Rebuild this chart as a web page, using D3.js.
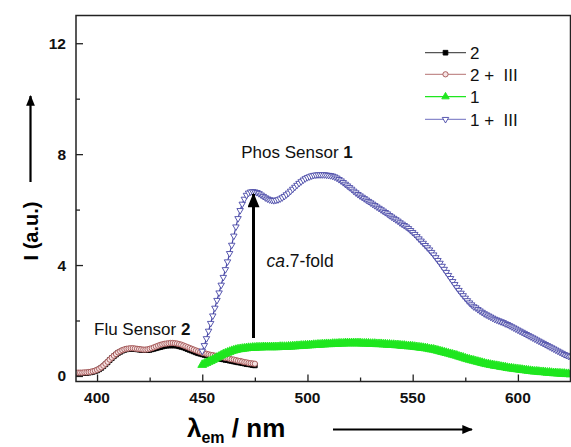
<!DOCTYPE html>
<html>
<head>
<meta charset="utf-8">
<script src="https://cdn.jsdelivr.net/npm/d3@7"></script>
<style>
  body { margin: 0; background: #fff; }
  svg { display: block; font-family: "Liberation Sans", Arial, sans-serif; }
</style>
</head>
<body>
<svg id="chart" width="571" height="447"></svg>
<script>
// Emission spectra, intensity (a.u.) sampled every 1 nm
const seriesNames = ["2", "2 +  III", "1", "1 +  III"];
const wavelengthsFlu = d3.range(390, 476);   // 390–475 nm
const wavelengthsPhos = d3.range(450, 626);  // 450–625 nm

const sensor2 = [
  0.10,0.10,0.10,0.10,0.11,0.11,0.12,0.13,0.15,0.17,
  0.20,0.24,0.29,0.35,0.42,0.49,0.57,0.64,0.71,0.77,
  0.83,0.87,0.91,0.94,0.96,0.97,0.98,0.98,0.97,0.96,
  0.95,0.94,0.93,0.93,0.93,0.94,0.96,0.98,1.00,1.02,
  1.04,1.06,1.08,1.09,1.10,1.10,1.10,1.10,1.09,1.07,
  1.05,1.03,1.00,0.97,0.94,0.91,0.88,0.85,0.82,0.80,
  0.78,0.76,0.74,0.72,0.70,0.68,0.66,0.65,0.63,0.61,
  0.60,0.58,0.57,0.55,0.54,0.52,0.51,0.49,0.48,0.46,
  0.45,0.43,0.42,0.41,0.39,0.38
];

const sensor2III = [
  0.12,0.12,0.12,0.12,0.13,0.13,0.14,0.15,0.17,0.19,
  0.22,0.26,0.31,0.37,0.44,0.51,0.59,0.66,0.73,0.79,
  0.85,0.89,0.93,0.96,0.98,0.99,1.00,1.00,0.99,0.98,
  0.97,0.96,0.95,0.95,0.96,0.98,1.00,1.03,1.06,1.09,
  1.12,1.14,1.16,1.17,1.18,1.19,1.19,1.18,1.17,1.15,
  1.13,1.10,1.07,1.04,1.01,0.98,0.95,0.92,0.89,0.86,
  0.84,0.82,0.80,0.78,0.76,0.75,0.73,0.72,0.70,0.69,
  0.67,0.65,0.64,0.62,0.60,0.59,0.57,0.55,0.54,0.52,
  0.50,0.49,0.47,0.46,0.45,0.44
];

const sensor1 = [
  0.40,0.44,0.47,0.51,0.54,0.58,0.62,0.66,0.70,0.74,
  0.78,0.81,0.84,0.87,0.90,0.92,0.94,0.96,0.97,0.98,
  0.99,1.00,1.01,1.01,1.02,1.02,1.03,1.03,1.03,1.04,
  1.04,1.04,1.04,1.04,1.04,1.04,1.04,1.05,1.05,1.05,
  1.05,1.06,1.06,1.07,1.07,1.08,1.08,1.09,1.09,1.10,
  1.10,1.11,1.11,1.12,1.12,1.13,1.13,1.14,1.14,1.15,
  1.15,1.15,1.16,1.16,1.16,1.17,1.17,1.17,1.18,1.18,
  1.18,1.18,1.18,1.18,1.18,1.18,1.17,1.17,1.17,1.17,
  1.16,1.16,1.16,1.15,1.15,1.15,1.14,1.14,1.13,1.13,
  1.12,1.12,1.11,1.11,1.10,1.09,1.09,1.08,1.07,1.07,
  1.06,1.05,1.04,1.03,1.02,1.01,1.00,0.99,0.97,0.96,
  0.95,0.93,0.91,0.89,0.87,0.85,0.83,0.81,0.79,0.77,
  0.75,0.73,0.70,0.68,0.66,0.63,0.61,0.59,0.57,0.55,
  0.53,0.51,0.49,0.47,0.45,0.43,0.42,0.40,0.39,0.37,
  0.36,0.35,0.33,0.32,0.31,0.29,0.28,0.27,0.26,0.25,
  0.24,0.23,0.22,0.21,0.20,0.19,0.18,0.17,0.16,0.16,
  0.15,0.14,0.14,0.13,0.12,0.12,0.11,0.10,0.10,0.09,
  0.09,0.08,0.08,0.07,0.07,0.06
];

const sensor1III = [
  0.90,1.10,1.35,1.62,1.90,2.17,2.45,2.73,3.00,3.28,
  3.56,3.84,4.12,4.42,4.72,5.05,5.38,5.68,5.97,6.20,
  6.38,6.52,6.60,6.64,6.65,6.64,6.62,6.58,6.53,6.48,
  6.43,6.39,6.36,6.34,6.33,6.34,6.36,6.39,6.43,6.48,
  6.54,6.60,6.67,6.74,6.81,6.88,6.95,7.01,7.07,7.12,
  7.16,7.19,7.22,7.24,7.25,7.26,7.26,7.26,7.26,7.25,
  7.24,7.23,7.21,7.18,7.14,7.09,7.04,6.98,6.92,6.86,
  6.80,6.74,6.67,6.61,6.55,6.50,6.45,6.40,6.35,6.30,
  6.25,6.20,6.15,6.10,6.05,6.00,5.95,5.90,5.85,5.79,
  5.74,5.69,5.64,5.59,5.53,5.48,5.43,5.38,5.32,5.25,
  5.18,5.11,5.03,4.95,4.87,4.79,4.71,4.63,4.55,4.46,
  4.37,4.27,4.17,4.07,3.96,3.85,3.74,3.63,3.52,3.41,
  3.30,3.19,3.09,2.99,2.90,2.81,2.72,2.64,2.57,2.50,
  2.46,2.40,2.35,2.30,2.25,2.21,2.17,2.13,2.09,2.05,
  2.02,1.99,1.96,1.93,1.89,1.86,1.82,1.78,1.74,1.70,
  1.66,1.62,1.58,1.54,1.50,1.46,1.42,1.38,1.34,1.30,
  1.26,1.22,1.18,1.14,1.10,1.06,1.02,0.98,0.94,0.90,
  0.86,0.82,0.78,0.75,0.72,0.69
];

const xTicks = [400, 450, 500, 550, 600];
const xMinorTicks = [425, 475, 525, 575];
const yTicks = [0, 4, 8, 12];
const yMinorTicks = [2, 6, 10];

const svg = d3.select("#chart");

const plot = { left: 76, right: 570.5, top: 15.5, bottom: 381.5 };
const x = d3.scaleLinear().domain([390, 625]).range([plot.left, plot.right]);
const y = d3.scaleLinear().domain([-0.2, 13]).range([plot.bottom, plot.top]);

const defs = svg.append("defs");
defs.append("clipPath").attr("id", "plotClip")
  .append("rect")
  .attr("x", plot.left).attr("y", plot.top)
  .attr("width", plot.right - plot.left).attr("height", plot.bottom - plot.top);

// Arrowhead marker for annotation arrows
defs.append("marker")
  .attr("id", "arrowHead")
  .attr("viewBox", "0 0 12 10")
  .attr("refX", 11).attr("refY", 5)
  .attr("markerWidth", 5).attr("markerHeight", 4)
  .attr("markerUnits", "strokeWidth")
  .attr("orient", "auto")
  .append("path").attr("d", "M0,0 L12,5 L0,10 z").attr("fill", "#000");

const series = [
  { name: seriesNames[0], xs: wavelengthsFlu, ys: sensor2,
    symbol: d3.symbolSquare, size: 22, fill: "#000", stroke: "#000", line: "#555" },
  { name: seriesNames[1], xs: wavelengthsFlu, ys: sensor2III,
    symbol: d3.symbolCircle, size: 22, fill: "#f6e4e4", stroke: "#a35252", line: "#c48e8e" },
  { name: seriesNames[2], xs: wavelengthsPhos, ys: sensor1,
    symbol: d3.symbolTriangle, size: 34, fill: "#1fe61f", stroke: "#1fe61f", line: "#1fe61f" },
  { name: seriesNames[3], xs: wavelengthsPhos, ys: sensor1III,
    symbol: d3.symbolTriangle, size: 18, fill: "#fff", stroke: "#4646a6", line: "#8a8acc", flip: true }
];

const dataLayer = svg.append("g").attr("clip-path", "url(#plotClip)");
const lineGen = d3.line().x(d => x(d[0])).y(d => y(d[1]));

series.forEach(s => {
  const pts = s.xs.map((w, i) => [w, s.ys[i]]);
  const g = dataLayer.append("g");
  g.append("path").datum(pts)
    .attr("d", lineGen).attr("fill", "none")
    .attr("stroke", s.stroke).attr("stroke-width", 1.2);
  g.selectAll("path.pt").data(pts).enter().append("path")
    .attr("class", "pt")
    .attr("d", d3.symbol().type(s.symbol).size(s.size))
    .attr("transform", d => `translate(${x(d[0])},${y(d[1])})${s.flip ? " rotate(180)" : ""}`)
    .attr("fill", s.fill).attr("stroke", s.stroke).attr("stroke-width", 0.9);
});

// Frame and inward ticks
const axisColor = "#222";
svg.append("rect")
  .attr("x", plot.left).attr("y", plot.top)
  .attr("width", plot.right - plot.left).attr("height", plot.bottom - plot.top)
  .attr("fill", "none").attr("stroke", axisColor).attr("stroke-width", 1.5);

function tickGroup(axis, transform) {
  svg.append("g").attr("transform", transform).call(axis)
    .call(g => g.select(".domain").remove())
    .call(g => g.selectAll("line").attr("stroke", axisColor).attr("stroke-width", 1.3));
}
tickGroup(d3.axisTop(x).tickValues(xTicks).tickSize(7).tickFormat(""), `translate(0,${plot.bottom})`);
tickGroup(d3.axisTop(x).tickValues(xMinorTicks).tickSize(4).tickFormat(""), `translate(0,${plot.bottom})`);
tickGroup(d3.axisRight(y).tickValues(yTicks).tickSize(7).tickFormat(""), `translate(${plot.left},0)`);
tickGroup(d3.axisRight(y).tickValues(yMinorTicks).tickSize(4).tickFormat(""), `translate(${plot.left},0)`);

// Tick labels
svg.append("g").selectAll("text").data(xTicks).enter().append("text")
  .attr("x", d => x(d)).attr("y", 403)
  .attr("text-anchor", "middle")
  .attr("font-size", 15.5).attr("font-weight", "bold").attr("fill", "#111")
  .text(d => d);

svg.append("g").selectAll("text").data(yTicks).enter().append("text")
  .attr("x", 66).attr("y", d => y(d) + 5.5)
  .attr("text-anchor", "end")
  .attr("font-size", 15.5).attr("font-weight", "bold").attr("fill", "#111")
  .text(d => d);

// Axis titles with direction arrows
svg.append("text")
  .attr("transform", "translate(38,231) rotate(-90)")
  .attr("text-anchor", "middle")
  .attr("font-size", 20).attr("font-weight", "bold").attr("fill", "#000")
  .text("I (a.u.)");
svg.append("line")
  .attr("x1", 30.5).attr("y1", 182).attr("x2", 30.5).attr("y2", 96)
  .attr("stroke", "#000").attr("stroke-width", 2.2)
  .attr("marker-end", "url(#arrowHead)");

const xTitle = svg.append("text")
  .attr("x", 187).attr("y", 437)
  .attr("font-size", 26).attr("font-weight", "bold").attr("fill", "#000");
xTitle.append("tspan").text("λ");
xTitle.append("tspan").attr("font-size", 16).attr("dy", 6).text("em");
xTitle.append("tspan").attr("dy", -6).text(" / nm");

svg.append("line")
  .attr("x1", 333).attr("y1", 429.5).attr("x2", 472).attr("y2", 429.5)
  .attr("stroke", "#000").attr("stroke-width", 2.2)
  .attr("marker-end", "url(#arrowHead)");

// Legend
const legend = svg.append("g");
const legendRows = [52.7, 74.3, 96.7, 119.3];
series.forEach((s, i) => {
  const row = legend.append("g").attr("transform", `translate(0,${legendRows[i]})`);
  row.append("line").attr("x1", 425).attr("x2", 466).attr("y1", 0).attr("y2", 0)
    .attr("stroke", s.line).attr("stroke-width", 1.3);
  row.append("path")
    .attr("d", d3.symbol().type(s.symbol).size(Math.min(s.size, 24)))
    .attr("transform", `translate(445.5,0)${s.flip ? " rotate(180)" : ""}`)
    .attr("fill", s.fill).attr("stroke", s.stroke).attr("stroke-width", 0.9);
  row.append("text")
    .attr("x", 470).attr("y", 6.2)
    .attr("font-size", 17).attr("fill", "#111")
    .attr("xml:space", "preserve").style("white-space", "pre")
    .text(s.name);
});

// Annotations
const phos = svg.append("text").attr("x", 297).attr("y", 158)
  .attr("text-anchor", "middle").attr("font-size", 17).attr("fill", "#111");
phos.append("tspan").text("Phos Sensor ");
phos.append("tspan").attr("font-weight", "bold").text("1");

const flu = svg.append("text").attr("x", 94).attr("y", 335)
  .attr("font-size", 17).attr("fill", "#111");
flu.append("tspan").text("Flu Sensor ");
flu.append("tspan").attr("font-weight", "bold").text("2");

const fold = svg.append("text").attr("x", 266.5).attr("y", 266.5)
  .attr("font-size", 17.5).attr("fill", "#111");
fold.append("tspan").attr("font-style", "italic").text("ca");
fold.append("tspan").text(".7-fold");

svg.append("line")
  .attr("x1", 253.5).attr("y1", 338).attr("x2", 253.5).attr("y2", 194)
  .attr("stroke", "#000").attr("stroke-width", 3)
  .attr("marker-end", "url(#arrowHead)");
</script>
</body>
</html>
